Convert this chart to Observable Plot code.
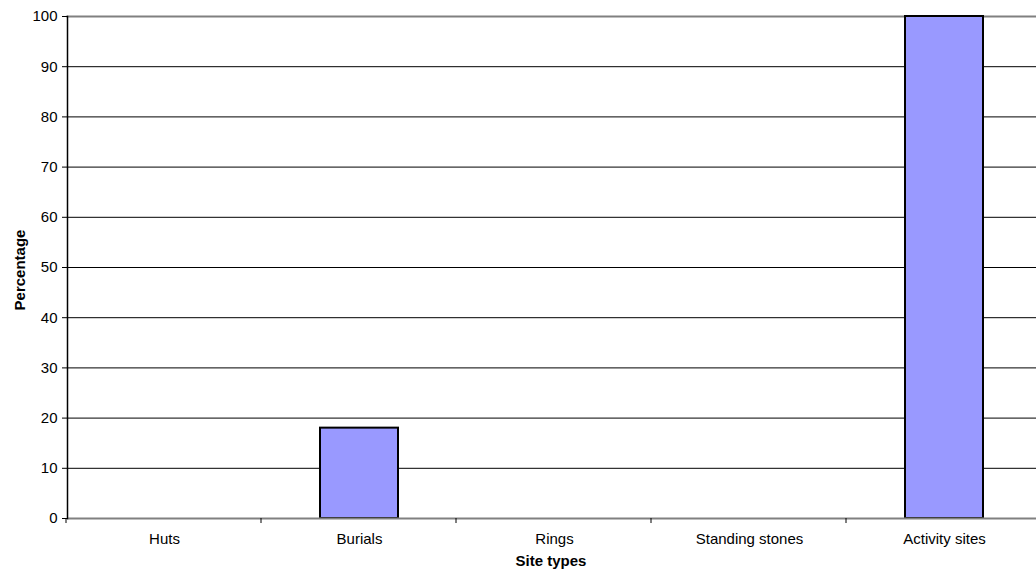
<!DOCTYPE html>
<html>
<head>
<meta charset="utf-8">
<script src="https://cdn.jsdelivr.net/npm/d3@7"></script>
<script src="https://cdn.jsdelivr.net/npm/@observablehq/plot@0.6"></script>
<style>
  html, body { margin: 0; padding: 0; background: #fff; }
  #chart { width: 1036px; height: 571px; overflow: hidden; }
</style>
</head>
<body>
<div id="chart"></div>
<script>
const categories = ["Huts", "Burials", "Rings", "Standing stones", "Activity sites"];
const percentages = [0, 18, 0, 0, 100];
const yTicks = [0, 10, 20, 30, 40, 50, 60, 70, 80, 90, 100];

const data = categories.map((c, i) => ({site: c, pct: percentages[i]}));

const xRange = [67, 1042];
const step = (xRange[1] - xRange[0]) / categories.length;

const chart = Plot.plot({
  width: 1036,
  height: 571,
  marginTop: 16,
  marginBottom: 53,
  marginLeft: 67,
  marginRight: 0,
  style: {fontFamily: "'Liberation Sans', Arial, sans-serif", fontSize: "15px", color: "#000", background: "#fff"},
  x: {domain: categories, range: xRange, paddingInner: 0.6, paddingOuter: 0.3, label: null},
  y: {domain: [0, 100], label: null},
  marks: [
    Plot.gridY(yTicks.filter(d => d > 0 && d < 100), {stroke: "#000", strokeOpacity: 1, strokeWidth: 1}),
    Plot.frame({anchor: "top", stroke: "#808080", strokeWidth: 2}),
    Plot.barY(data, {x: "site", y: "pct", fill: "#9999FF", stroke: "#000", strokeWidth: 2}),
    Plot.ruleY([0], {stroke: "#808080", strokeWidth: 2}),
    Plot.ruleX(categories, {x: d => d, y1: 0, y2: -1, dx: -step / 2 - 1, stroke: "#000"}),
    Plot.frame({anchor: "left", stroke: "#000", strokeWidth: 1.5}),
    Plot.axisY({ticks: yTicks, tickSize: 5, tickPadding: 5, stroke: "#000"}),
    Plot.axisX({tickSize: 0, tickPadding: 15, label: null})
  ]
});

const svg = d3.select(chart);
svg.append("text")
  .attr("x", 551)
  .attr("y", 566)
  .attr("text-anchor", "middle")
  .attr("font-weight", "bold")
  .attr("font-size", 15)
  .text("Site types");
svg.append("text")
  .attr("transform", "translate(25,270) rotate(-90)")
  .attr("text-anchor", "middle")
  .attr("font-weight", "bold")
  .attr("font-size", 15)
  .text("Percentage");

document.getElementById("chart").appendChild(chart);
</script>
</body>
</html>
